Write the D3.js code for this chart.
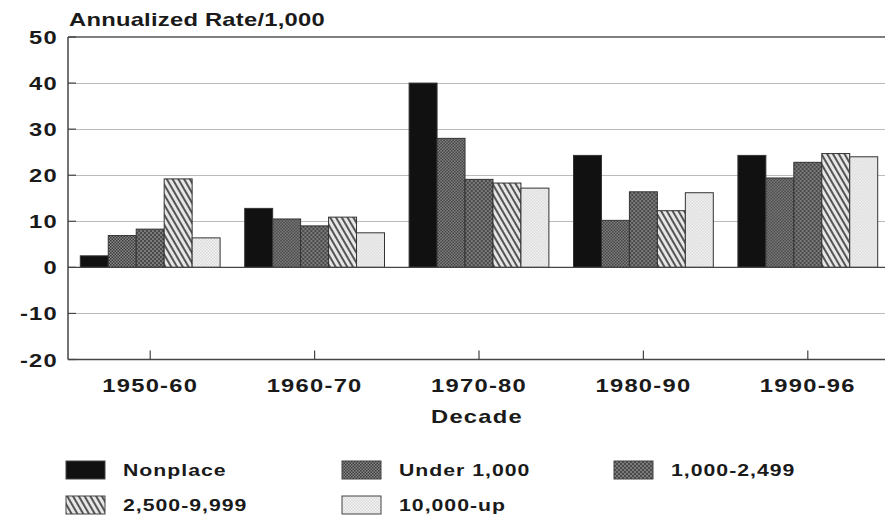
<!DOCTYPE html>
<html lang="en">
<head>
<meta charset="UTF-8" />
<title>Annualized Rate by Decade</title>
<style>
  body { margin: 0; background: #fff; font-family: "Liberation Sans", Arial, sans-serif; }
  svg { display: block; }
  .lbl { font-weight: bold; fill: #1a1a1a; }
</style>
</head>
<body>
<svg width="885" height="522"></svg>
<script src="https://d3js.org/d3.v7.min.js"></script>
<script>
// Data
const decades = ["1950-60", "1960-70", "1970-80", "1980-90", "1990-96"];
const seriesNames = ["Nonplace", "Under 1,000", "1,000-2,499", "2,500-9,999", "10,000-up"];
const nonplace   = [2.5, 12.8, 40.0, 24.3, 24.3];
const under1000  = [6.9, 10.5, 28.0, 10.2, 19.4];
const small      = [8.3, 9.0, 19.1, 16.4, 22.8];
const mid        = [19.2, 10.9, 18.3, 12.3, 24.7];
const large      = [6.4, 7.5, 17.2, 16.2, 24.0];
const yTicks = [50, 40, 30, 20, 10, 0, -10, -20];

const series = [nonplace, under1000, small, mid, large];
const fills = ["#111", "url(#pUnder)", "url(#pSmall)", "url(#pMid)", "url(#pLarge)"];

const svg = d3.select("svg");
const margin = { left: 68, top: 37, right: -5, bottom: 162 };
const W = 885, H = 522;
const SX = 1.25; // the original lettering is a wide (extended) face

const x = d3.scaleBand().domain(decades).range([margin.left, W - margin.right]);
const xs = d3.scaleBand().domain(d3.range(5)).range([0, x.bandwidth()])
  .paddingInner(0).paddingOuter(0.44);
const y = d3.scaleLinear().domain([-20, 50]).range([H - margin.bottom - 0.5, margin.top]);

// wide text helper
function wideText(sel, tx, ty, size, spacing, anchor) {
  return sel.append("text").attr("class", "lbl")
    .attr("transform", `translate(${tx},${ty}) scale(${SX},1)`)
    .attr("font-size", size).attr("letter-spacing", spacing)
    .attr("text-anchor", anchor || "start");
}

// Patterns
const defs = svg.append("defs");
function crossPattern(id, bg, ink, size) {
  const p = defs.append("pattern").attr("id", id).attr("patternUnits", "userSpaceOnUse")
    .attr("width", size).attr("height", size);
  p.append("rect").attr("width", size).attr("height", size).attr("fill", bg);
  p.append("rect").attr("width", size / 2).attr("height", size / 2).attr("fill", ink);
  p.append("rect").attr("x", size / 2).attr("y", size / 2).attr("width", size / 2).attr("height", size / 2).attr("fill", ink);
}
crossPattern("pUnder", "#8a8a8a", "#3a3a3a", 3);
crossPattern("pSmall", "#7a7a7a", "#4a4a4a", 4);
crossPattern("pLarge", "#f4f4f4", "#d8d8d8", 3);
const stripe = defs.append("pattern").attr("id", "pMid").attr("patternUnits", "userSpaceOnUse")
  .attr("width", 5).attr("height", 5).attr("patternTransform", "rotate(-30)");
stripe.append("rect").attr("width", 5).attr("height", 5).attr("fill", "#e6e6e6");
stripe.append("rect").attr("width", 2).attr("height", 5).attr("fill", "#555");

// Grid lines
svg.append("g").selectAll("line").data(yTicks.filter(d => d !== 0 && d !== 50 && d !== -20)).join("line")
  .attr("x1", margin.left).attr("x2", W)
  .attr("y1", d => Math.round(y(d)) + 0.5).attr("y2", d => Math.round(y(d)) + 0.5)
  .attr("stroke", "#bbb").attr("stroke-width", 1);

// Frame
svg.append("line").attr("x1", margin.left).attr("x2", W)
  .attr("y1", y(50)).attr("y2", y(50)).attr("stroke", "#555").attr("stroke-width", 1.5);
svg.append("line").attr("x1", margin.left).attr("x2", margin.left)
  .attr("y1", y(50)).attr("y2", y(-20)).attr("stroke", "#444").attr("stroke-width", 1.5);
svg.append("line").attr("x1", margin.left).attr("x2", W)
  .attr("y1", y(-20)).attr("y2", y(-20)).attr("stroke", "#444").attr("stroke-width", 1.5);

// Y axis ticks and labels
const yAxis = svg.append("g");
yAxis.selectAll("line").data(yTicks).join("line")
  .attr("x1", margin.left).attr("x2", margin.left + 8)
  .attr("y1", d => y(d)).attr("y2", d => y(d)).attr("stroke", "#444").attr("stroke-width", 1.2);
yTicks.forEach(t => {
  wideText(yAxis, 58, y(t) + 7, 19, 1, "end").text(t);
});

// Bars
const groups = svg.append("g").selectAll("g").data(decades).join("g")
  .attr("transform", d => `translate(${x(d)},0)`);
groups.selectAll("rect").data((d, i) => series.map((s, k) => ({ k, v: s[i] }))).join("rect")
  .attr("x", d => xs(d.k)).attr("width", xs.bandwidth())
  .attr("y", d => y(Math.max(0, d.v))).attr("height", d => Math.abs(y(d.v) - y(0)))
  .attr("fill", d => fills[d.k]).attr("stroke", "#333").attr("stroke-width", 1);

// Zero line
svg.append("line").attr("x1", margin.left).attr("x2", W)
  .attr("y1", y(0)).attr("y2", y(0)).attr("stroke", "#444").attr("stroke-width", 1.3);

// X ticks and labels
const xAxis = svg.append("g");
xAxis.selectAll("line").data(decades).join("line")
  .attr("x1", d => x(d) + x.bandwidth() / 2).attr("x2", d => x(d) + x.bandwidth() / 2)
  .attr("y1", y(-20)).attr("y2", y(-20) - 9).attr("stroke", "#444").attr("stroke-width", 1.2);
decades.forEach(d => {
  wideText(xAxis, x(d) + x.bandwidth() / 2, 392, 19, 1, "middle").text(d);
});

wideText(svg, 477, 423, 19, 1, "middle").text("Decade");
wideText(svg, 69, 26, 19, 0.2).text("Annualized Rate/1,000");

// Legend
const legendPos = [[66, 461], [342, 461], [614, 461], [66, 496], [342, 496]];
const legend = svg.append("g").selectAll("g").data(seriesNames).join("g")
  .attr("transform", (d, i) => `translate(${legendPos[i][0]},${legendPos[i][1]})`);
legend.append("rect").attr("width", 39).attr("height", 18)
  .attr("fill", (d, i) => fills[i]).attr("stroke", "#444").attr("stroke-width", 1);
legend.each(function () {
  const g = d3.select(this);
  wideText(g, 57, 15, 17, 0.8).text(g.datum());
});
</script>
</body>
</html>
